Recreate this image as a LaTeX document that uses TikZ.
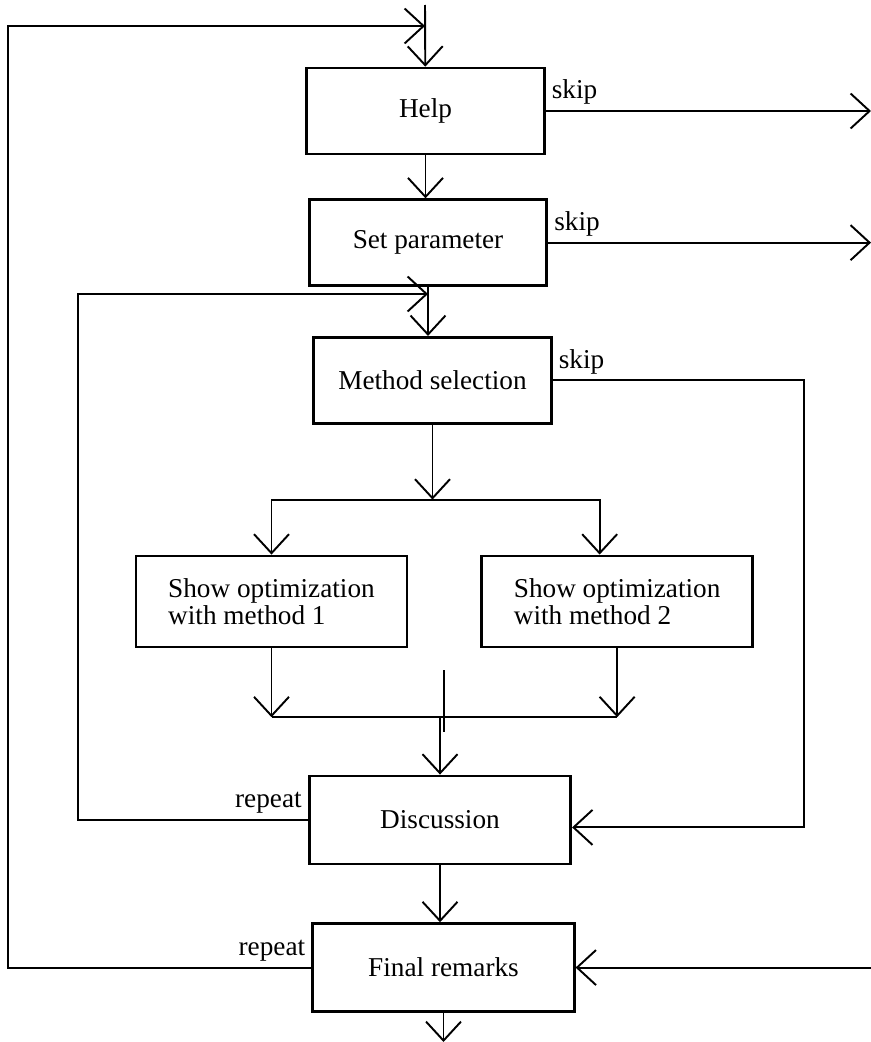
\documentclass[tikz,border=0pt]{standalone}
\usepackage{fontspec}
\setmainfont{Liberation Serif}
\usetikzlibrary{arrows.meta,positioning}

\begin{document}
\begin{tikzpicture}[>={Straight Barb[length=0.38cm,width=0.7cm]},line width=1.1pt,
    font=\fontsize{15.5}{15.5}\selectfont,
    block/.style={draw,line width=1.5pt,minimum width=4.75cm,minimum height=1.72cm,align=left,inner sep=0pt},
    wide/.style={block,minimum width=5.23cm,minimum height=1.76cm},
    lbl/.style={inner sep=3pt}]
  \useasboundingbox (0,0) rectangle (17.42,-20.84);

  \node[block] (help)      at (8.51,-2.22) {Help};
  \node[block] (set)       [below=0.86cm of help, xshift=0.05cm] {Set parameter};
  \node[block] (method)    [below=0.98cm of set, xshift=0.09cm] {Method selection};
  \node[block,minimum width=5.42cm,minimum height=1.82cm] (show1) [below=2.6cm of method, xshift=-3.22cm] {Show optimization\\with method 1};
  \node[block,minimum width=5.42cm,minimum height=1.82cm] (show2) [right=1.44cm of show1] {Show optimization\\with method 2};
  \node[wide]  (discuss)   [below=7cm of method, xshift=0.15cm] {Discussion};
  \node[wide]  (final)     [below=1.14cm of discuss, xshift=0.07cm] {Final remarks};

  \coordinate (top)     at (8.50,-0.1);
  \coordinate (topin)   at (8.50,-0.52);
  \coordinate (outer)   at (0.16,-0.52);
  \coordinate (innerin) at (8.56,-5.88);
  \coordinate (inner)   at (1.56,-5.88);
  \coordinate (edge)    at (17.42,0);
  \coordinate (skipx)   at (16.08,0);
  \coordinate (bottom)  at (0,-20.84);
  \coordinate[below=1.5cm of method]  (split);
  \coordinate[below=1.38cm of show1]  (m1);
  \coordinate[below=1.38cm of show2]  (m2);
  \coordinate (discin) at ([yshift=-0.15cm]discuss.east);

  \draw[->] (top) -- (help);
  \draw[->] (help) -- (help.south |- set.north);
  \draw[->] (set) -- (set.south |- method.north);
  \draw[->] (help.east) -- node[lbl,pos=0,above right] {skip} (help.east -| edge);
  \draw[->] (set.east) -- node[lbl,pos=0,above right] {skip} (set.east -| edge);
  \draw[->] (method.east) -- node[lbl,pos=0,above right] {skip} (method.east -| skipx) |- (discin);

  \draw[->] (method) -- (split);
  \draw[->] (split) -| (show1);
  \draw[->] (split) -| ([xshift=-0.35cm]show2.north);
  \draw[->] (show1) -- (m1);
  \draw[->] (show2) -- (m2);
  \draw (m1) -- (m2);
  \draw[->] (m1 -| discuss) -- (discuss);
  \draw[line width=0.6pt] (8.88,-13.4) -- (8.88,-14.64);

  \draw[->] (discuss.west) -- node[lbl,pos=0,above left] {repeat} (discuss.west -| inner) -- (inner) -- (innerin);
  \draw[->] (final.west) -- node[lbl,pos=0,above left] {repeat} (final.west -| outer) -- (outer) -- (topin);
  \draw[->] (discuss) -- (discuss.south |- final.north);
  \draw[->] (final.east -| edge) -- (final.east);
  \draw[->] (final) -- (final.south |- bottom);
\end{tikzpicture}
\end{document}
